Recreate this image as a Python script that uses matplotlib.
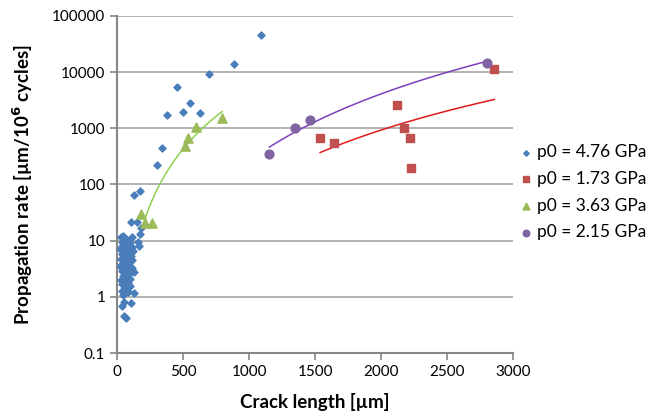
import numpy as np
import matplotlib
matplotlib.use("Agg")
import matplotlib.pyplot as plt
from matplotlib.ticker import FixedLocator, FixedFormatter, NullLocator

plt.rcParams["font.family"] = ["Lato", "DejaVu Sans"]

# p0 = 4.76 GPa (dense cluster near the origin, then the scattered long cracks)
blue_x = [30, 45, 60, 75, 40, 55, 85, 100, 35, 65, 110, 25, 50, 80, 95, 120,
          40, 60, 70, 105, 30, 50, 85, 115, 45, 65, 95, 25, 55, 75, 110, 35,
          60, 90, 125, 45, 70, 100, 30, 55, 80, 40, 65, 95, 50, 75, 35, 60,
          85, 45, 126, 40, 55, 104, 48, 66,
          104, 149, 182, 174, 111, 157, 169, 129, 172,
          305, 338, 376, 500, 555, 626, 457, 695, 884, 1089]
blue_y = [11.5, 12, 11, 10.5, 9.5, 9, 8.8, 9.5, 8, 7.5, 7.8, 7, 6.8, 6.5, 6.2, 6.5,
          5.8, 5.5, 5, 5.3, 4.8, 4.5, 4.3, 4.6, 4, 3.8, 3.6, 3.5, 3.2, 3.1, 3.3, 2.9,
          2.7, 2.6, 2.8, 2.4, 2.2, 2.1, 2.0, 1.9, 1.8, 1.7, 1.6, 1.55, 1.4, 1.35, 1.3, 1.2,
          1.25, 1.1, 1.16, 0.68, 0.8, 0.78, 0.46, 0.42,
          21.6, 21.8, 16.6, 13.2, 11.5, 9.6, 8.1, 66, 78,
          220, 454, 1710, 1960, 2830, 1860, 5500, 9200, 14000, 46000]

# p0 = 1.73 GPa
red_x = [1538, 1641, 2121, 2177, 2220, 2230, 2858]
red_y = [684, 543, 2580, 1005, 684, 195, 11300]

# p0 = 3.63 GPa
green_x = [182, 210, 263, 513, 535, 596, 795]
green_y = [29.6, 21, 20.5, 492, 684, 1070, 1550]

# p0 = 2.15 GPa
purple_x = [1154, 1346, 1465, 2805]
purple_y = [350, 1016, 1430, 14400]

y_ticks = [0.1, 1, 10, 100, 1000, 10000, 100000]
y_labels = ["0.1", "1", "10", "100", "1000", "10000", "100000"]


def power_trend(x, y):
    # Excel-style power trendline over the data range
    b, a = np.polyfit(np.log(x), np.log(y), 1)
    xs = np.linspace(min(x), max(x), 100)
    return xs, np.exp(a) * xs ** b


fig = plt.figure(figsize=(6.62, 4.16), dpi=100)
ax = fig.add_axes([0.177, 0.151, 0.598, 0.811])

ax.scatter(blue_x, blue_y, marker="D", s=13, color="#4A7EBB", label="p0 = 4.76 GPa", zorder=3)
ax.scatter(red_x, red_y, marker="s", s=40, color="#C0504D", label="p0 = 1.73 GPa", zorder=3)
ax.scatter(green_x, green_y, marker="^", s=44, color="#9BBB59", label="p0 = 3.63 GPa", zorder=3)
ax.scatter(purple_x, purple_y, marker="o", s=40, color="#8064A2", label="p0 = 2.15 GPa", zorder=3)

for xs, ys, c in [(red_x, red_y, "#E31A1C"), (green_x, green_y, "#8FD14F"),
                  (purple_x, purple_y, "#7B3FBF")]:
    tx, ty = power_trend(xs, ys)
    ax.plot(tx, ty, color=c, lw=1.1, zorder=2)

ax.set_yscale("log")
ax.set_ylim(0.1, 100000)
ax.set_xlim(0, 3000)
ax.set_xticks(range(0, 3001, 500))
ax.yaxis.set_major_locator(FixedLocator(y_ticks))
ax.yaxis.set_major_formatter(FixedFormatter(y_labels))
ax.yaxis.set_minor_locator(NullLocator())
ax.grid(axis="y", color="#A6A6A6", lw=1.2)
ax.set_axisbelow(True)

for s in ["top", "right"]:
    ax.spines[s].set_visible(False)
for s in ["left", "bottom"]:
    ax.spines[s].set_color("#868686")
    ax.spines[s].set_linewidth(1.5)
ax.tick_params(colors="#868686", labelcolor="black", labelsize=11, length=5, width=1.2)

ax.set_xlabel("Crack length [µm]", fontsize=13.5, fontweight="bold", labelpad=10)
ax.set_ylabel(r"Propagation rate [µm/10$^{\mathbf{6}}$ cycles]", fontsize=13.5,
              fontweight="bold", labelpad=12)

ax.legend(loc="center left", bbox_to_anchor=(0.99, 0.477), frameon=False, fontsize=12.5,
          handletextpad=0.0, labelspacing=0.62, markerscale=0.75, handlelength=1.2,
          borderaxespad=0.0)

fig.savefig("out.png", dpi=100)
